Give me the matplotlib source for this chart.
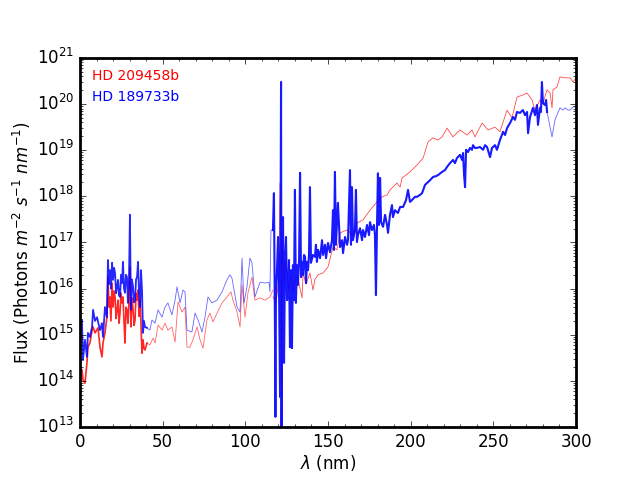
import numpy as np
import matplotlib
matplotlib.use("Agg")
import matplotlib.pyplot as plt
from matplotlib.ticker import MultipleLocator, LogLocator, NullFormatter

# ---------------- data (wavelength in nm, log10 of flux) ----------------
red_xuv_wl = [1.2, 1.8, 3.0, 4.2, 4.8, 6.0, 7.3, 7.9, 9.1, 10.9, 12.1, 13.3, 13.9, 15.1, 16.3,
              16.9, 17.5, 18.1, 18.7, 19.4, 20.0, 20.6, 21.2, 21.8, 22.4, 23.0, 23.6, 24.2, 24.8,
              25.4, 26.0, 26.6, 27.2, 27.8, 28.4, 29.0, 29.6, 30.2, 30.8, 31.4, 32.1, 32.7, 33.3,
              33.9, 34.5, 35.1, 35.7, 36.3, 36.9, 37.5, 38.1, 38.7, 39.3, 40.5]
red_xuv_lf = [14.24, 14.02, 13.95, 14.39, 14.73, 14.82, 15.10, 15.17, 15.04, 15.15, 14.73, 14.52,
              14.82, 15.04, 15.38, 16.25, 15.60, 15.82, 15.30, 16.12, 15.60, 15.95, 15.82, 15.35,
              15.54, 15.75, 15.25, 15.47, 15.90, 15.69, 15.82, 15.30, 14.82, 15.60, 15.54, 15.25,
              15.70, 16.47, 15.17, 15.80, 15.54, 15.20, 15.32, 15.90, 15.75, 15.97, 15.40, 15.75,
              15.20, 14.60, 14.89, 14.70, 14.67, 14.82]

red_fuv_wl = [40.5, 42.3, 44.2, 45.4, 47.2, 49.6, 51.4, 53.2, 55.6, 57.5, 59.3, 61.7, 63.5, 64.7,
              66.5, 68.3, 70.8, 72.6, 74.4, 76.8, 78.6, 80.4, 82.9, 85.9, 88.9, 91.3, 92.5, 95.0,
              96.8, 98.0, 99.8, 101.6, 104.0, 105.8, 108.9, 111.9, 114.9, 116.7]
red_fuv_lf = [14.82, 14.78, 14.93, 14.82, 15.21, 15.10, 15.25, 15.10, 15.17, 14.84, 15.71, 15.49,
              15.60, 14.73, 14.73, 14.89, 15.17, 14.89, 14.71, 15.32, 15.47, 15.28, 15.47, 15.69,
              15.82, 15.93, 15.75, 15.49, 15.17, 16.08, 15.38, 15.91, 16.25, 15.75, 15.80, 15.75,
              15.82, 15.97]

red_nuv_wl = [116.7, 118.5, 120.4, 121.0, 121.6, 122.0, 122.2, 123.4, 124.0, 125.2, 126.4, 127.6,
              128.8, 130.0, 131.8, 133.1, 134.3, 134.9, 136.7, 139.1, 140.9, 142.1, 144.0, 147.0,
              150.0, 153.0, 155.4, 157.3, 161.5, 165.1, 167.5, 171.2, 175.4, 179.6, 182.7, 185.7,
              187.5, 191.7, 193.6, 194.8, 199.6, 203.8, 207.5, 210.5, 213.5, 216.5, 219.0, 222.0,
              225.6, 229.8, 234.1, 237.1, 238.9, 243.2, 246.8, 251.0, 254.0, 258.3, 261.3, 264.3,
              267.9, 270.4, 273.4, 275.2, 278.2, 280.0, 282.5, 284.3, 285.5, 286.1, 288.5, 290.3,
              293.4, 296.4, 298.2, 300.0]
red_nuv_lf = [15.82, 15.70, 16.20, 18.29, 17.40, 12.90, 17.05, 16.10, 16.60, 16.34, 15.95, 16.30,
              15.91, 16.20, 16.25, 16.00, 15.80, 16.34, 16.10, 16.34, 15.97, 16.20, 16.30, 16.34,
              16.47, 16.90, 16.84, 17.21, 17.27, 17.16, 17.42, 17.49, 17.70, 17.88, 17.99, 18.03,
              18.14, 18.29, 18.20, 18.40, 18.53, 18.68, 18.83, 19.18, 19.27, 19.22, 19.29, 19.48,
              19.29, 19.44, 19.33, 19.44, 19.29, 19.59, 19.44, 19.50, 19.40, 19.87, 19.70, 20.15,
              20.20, 20.24, 20.09, 19.87, 20.09, 20.02, 20.31, 20.24, 19.92, 20.31, 20.37, 20.59,
              20.57, 20.57, 20.48, 20.57]

blue_xuv_wl = [1.2, 1.8, 3.0, 4.2, 4.8, 6.0, 7.3, 7.9, 9.1, 10.3, 12.1, 13.3, 13.9, 15.1, 16.3,
               16.9, 17.5, 18.1, 18.7, 19.4, 20.0, 20.6, 21.2, 21.8, 22.4, 23.0, 23.6, 24.2, 24.8,
               25.4, 26.0, 26.6, 27.2, 27.8, 28.4, 29.0, 29.6, 30.2, 30.8, 31.4, 32.1, 32.7, 33.3,
               33.9, 34.5, 35.1, 35.7, 36.3, 36.9, 37.5, 38.1, 38.7, 39.3, 40.5]
blue_xuv_lf = [15.32, 14.45, 14.89, 14.52, 15.04, 14.95, 15.17, 15.54, 15.30, 15.38, 15.10, 15.25,
               14.95, 15.60, 15.38, 16.62, 16.10, 16.40, 16.00, 16.56, 16.19, 16.45, 16.34, 15.90,
               16.04, 16.19, 15.85, 15.82, 16.30, 16.12, 16.58, 16.00, 15.91, 16.30, 16.25, 15.69,
               16.10, 17.60, 15.54, 16.20, 16.04, 15.70, 15.75, 16.20, 16.25, 16.58, 15.90, 15.60,
               16.40, 15.97, 15.04, 15.30, 15.17, 15.15]

blue_fuv_wl = [40.5, 42.3, 43.5, 45.4, 47.2, 49.6, 51.4, 53.2, 55.6, 57.5, 58.7, 60.5, 62.3, 63.5,
               64.7, 67.7, 69.6, 71.4, 73.8, 75.6, 77.4, 79.8, 82.9, 85.9, 88.9, 90.7, 91.9, 95.0,
               96.8, 98.0, 99.2, 101.0, 102.8, 104.0, 105.8, 108.9, 111.9, 114.3, 114.9, 115.5,
               116.7]
blue_fuv_lf = [15.15, 15.10, 15.32, 15.25, 15.54, 15.38, 15.60, 15.69, 15.43, 15.75, 16.04, 15.69,
               15.97, 15.93, 15.10, 15.06, 15.47, 15.32, 15.06, 15.38, 15.82, 15.69, 15.75, 15.93,
               16.19, 16.30, 16.23, 15.60, 15.49, 16.66, 15.69, 16.04, 16.66, 16.56, 15.82, 16.14,
               16.12, 16.14, 15.93, 17.27, 17.27]

blue_nuv_wl = [116.7, 117.3, 117.9, 118.2, 118.5, 119.8, 120.4, 121.0, 121.3, 121.6, 121.9, 122.2,
               122.8, 123.4, 124.0, 124.6, 125.2, 125.8, 126.4, 127.0, 127.6, 128.2, 128.8, 129.4,
               130.0, 130.6, 131.2, 131.8, 132.5, 133.1, 133.7, 134.3, 134.9, 135.5, 136.1, 136.7,
               137.3, 137.9, 138.5, 139.1, 139.7, 140.9, 142.1, 142.7, 143.3, 144.0, 145.2, 146.4,
               147.0, 148.2, 148.8, 150.0, 151.2, 152.4, 153.0, 153.6, 154.2, 154.8, 156.0, 157.3,
               158.5, 159.1, 160.3, 161.5, 162.1, 163.3, 163.9, 164.5, 165.1, 166.3, 166.9, 167.5,
               168.1, 169.4, 170.6, 171.2, 172.4, 173.6, 174.8, 175.4, 176.6, 177.8, 178.4, 179.0,
               179.6, 180.2, 180.8, 181.5, 182.1, 183.3, 184.5, 185.7, 186.3, 187.5, 188.7, 189.3,
               190.5, 192.3, 193.6, 195.4, 197.2, 198.4, 199.6, 200.8, 202.6, 203.8, 205.6, 206.9,
               208.7, 209.9, 211.7, 213.5, 215.4, 216.5, 219.0, 220.8, 222.0, 223.8, 225.6, 226.8,
               228.0, 229.8, 231.1, 231.7, 232.3, 232.9, 233.5, 234.7, 235.9, 237.1, 237.7, 238.9,
               240.1, 241.9, 243.8, 245.0, 246.2, 248.0, 249.2, 251.0, 252.2, 254.0, 255.9, 257.1,
               258.3, 260.1, 261.9, 263.1, 264.3, 266.1, 267.9, 269.2, 270.4, 271.0, 272.2, 274.0,
               275.2, 276.4, 277.0, 278.2, 278.8, 279.4, 280.0, 281.3, 281.9, 282.5]
blue_nuv_lf = [17.27, 18.07, 15.25, 13.22, 15.75, 17.12, 15.97, 13.65, 16.84, 20.48, 12.90, 15.75,
               17.55, 14.39, 16.62, 17.12, 15.75, 15.82, 16.62, 14.73, 16.40, 14.71, 16.51, 15.75,
               18.14, 15.69, 16.51, 16.08, 16.62, 18.51, 16.25, 16.58, 16.30, 16.73, 16.69, 16.12,
               16.58, 16.40, 16.73, 18.20, 16.56, 16.73, 16.69, 16.95, 16.58, 16.84, 16.66, 17.05,
               16.73, 16.95, 16.66, 16.99, 16.79, 17.05, 17.70, 16.84, 18.53, 16.95, 17.86, 16.90,
               17.05, 16.77, 17.12, 16.95, 17.05, 18.57, 16.95, 18.20, 17.05, 17.27, 18.14, 17.01,
               17.16, 17.31, 17.05, 17.27, 17.12, 17.38, 17.16, 17.44, 17.27, 17.38, 17.16, 15.86,
               17.27, 18.50, 17.38, 18.40, 17.44, 17.34, 17.60, 17.38, 17.21, 17.60, 17.81, 17.55,
               17.70, 17.64, 17.77, 17.77, 17.92, 18.14, 17.88, 17.92, 17.99, 17.99, 18.03, 18.07,
               18.25, 18.29, 18.35, 18.42, 18.44, 18.46, 18.53, 18.57, 18.64, 18.72, 18.79, 18.72,
               18.83, 18.90, 18.79, 18.94, 18.46, 18.20, 19.01, 18.96, 19.05, 19.01, 19.11, 19.05,
               19.05, 19.07, 19.01, 19.11, 19.07, 18.85, 19.05, 19.11, 19.01, 19.22, 19.40, 19.33,
               19.48, 19.59, 19.72, 19.66, 19.83, 19.81, 19.87, 19.76, 19.83, 19.37, 19.72, 19.92,
               19.76, 19.98, 19.55, 19.92, 19.83, 20.48, 20.02, 19.98, 20.09, 19.83]

blue_tail_wl = [282.5, 284.3, 285.5, 287.3, 290.3, 292.2, 293.4, 295.2, 296.4, 298.2, 300.0]
blue_tail_lf = [19.83, 19.50, 19.29, 19.66, 19.92, 19.87, 19.92, 19.87, 19.87, 19.94, 19.94]

labels = ["HD 209458b", "HD 189733b"]

# ---------------- plot ----------------
plt.style.use("classic")
plt.rcParams["figure.facecolor"] = "white"
plt.rcParams["savefig.facecolor"] = "white"
plt.rcParams["mathtext.fontset"] = "dejavusans"
plt.rcParams["font.family"] = ["DejaVu Sans"]
plt.rcParams["axes.linewidth"] = 2

fig = plt.figure(figsize=(6.4, 4.8), dpi=100)
ax = fig.add_axes([0.125, 0.1104, 0.775, 0.7688])

def lf(v):
    return 10.0 ** np.asarray(v)

ax.plot(red_xuv_wl, lf(red_xuv_lf), color="red", lw=1.2, alpha=0.85)
ax.plot(red_fuv_wl, lf(red_fuv_lf), color="red", lw=0.6, alpha=0.6)
ax.plot(red_nuv_wl, lf(red_nuv_lf), color="red", lw=0.6, alpha=0.7)
ax.plot(blue_xuv_wl, lf(blue_xuv_lf), color="blue", lw=1.3, alpha=0.85)
ax.plot(blue_fuv_wl, lf(blue_fuv_lf), color="blue", lw=0.6, alpha=0.6)
ax.plot(blue_nuv_wl, lf(blue_nuv_lf), color="blue", lw=1.5, alpha=0.9)
ax.plot(blue_tail_wl, lf(blue_tail_lf), color="blue", lw=0.6, alpha=0.6)

ax.set_yscale("log")
ax.set_xlim(0, 300)
ax.set_ylim(1e13, 1e21)
ax.xaxis.set_minor_locator(MultipleLocator(10))
ax.yaxis.set_major_locator(LogLocator(base=10, numticks=20))
ax.yaxis.set_minor_locator(LogLocator(base=10, subs=np.arange(2, 10), numticks=20))
ax.yaxis.set_minor_formatter(NullFormatter())
ax.xaxis.set_minor_formatter(NullFormatter())
ax.tick_params(labelsize=12)

ax.set_xlabel(r"$\lambda$ (nm)", fontsize=12)
ax.set_ylabel(r"Flux (Photons $m^{-2}$ $s^{-1}$ $nm^{-1}$)", fontsize=12)
ax.xaxis.set_label_coords(0.5, -0.07)
ax.yaxis.set_label_coords(-0.095, 0.5)

ax.text(0.024, 0.951, labels[0], color="red", fontsize=10, transform=ax.transAxes,
        ha="left", va="center")
ax.text(0.024, 0.894, labels[1], color="blue", fontsize=10, transform=ax.transAxes,
        ha="left", va="center")

fig.savefig("out.png", dpi=100)
